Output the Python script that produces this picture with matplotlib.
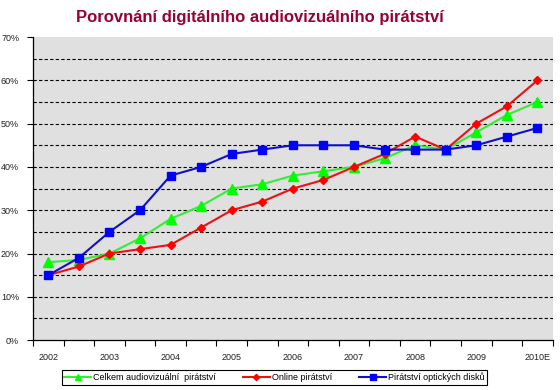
import matplotlib.pyplot as plt
import numpy as np

plt.rcParams['font.family'] = ['Liberation Sans', 'DejaVu Sans']

years = ['2002', '2003', '2004', '2005', '2006', '2007', '2008', '2009', '2010E']
celkem = [18, 18.5, 20, 23.5, 28, 31, 35, 36, 38, 39, 40, 42, 45, 44, 48, 52, 55]
online = [15, 17, 20, 21, 22, 26, 30, 32, 35, 37, 40, 43, 47, 44, 50, 54, 60]
opticke = [15, 19, 25, 30, 38, 40, 43, 44, 45, 45, 45, 44, 44, 44, 45, 47, 49]

x = np.arange(len(celkem))

fig = plt.figure(figsize=(5.6, 3.9), dpi=100)
ax = fig.add_axes([0.059, 0.128, 0.928, 0.777])
ax.set_facecolor('#e0e0e0')

ax.plot(x, celkem, color='#33ee33', lw=1.5, marker='^', ms=7,
        mfc='#00ff00', mec='#00ff00', label='Celkem audiovizuální  pirátství')
ax.plot(x, online, color='#ee1111', lw=1.5, marker='D', ms=4.5,
        mfc='#ff0000', mec='#ff0000', label='Online pirátství')
ax.plot(x, opticke, color='#1010cc', lw=1.5, marker='s', ms=6,
        mfc='#0000ff', mec='#0000ff', label='Pirátství optických disků')

ax.set_xlim(-0.5, len(x) - 0.5)
ax.set_ylim(0, 70)

for g in np.arange(5, 70, 5):
    ax.axhline(g, color='black', lw=0.8, ls=(0, (3, 2)), zorder=0.5)

ax.set_yticks(np.arange(0, 71, 10))
ax.set_yticklabels([f'{v}%' for v in range(0, 71, 10)])
ax.set_xticks(np.arange(0, len(x), 2))
ax.set_xticklabels(years)
ax.set_xticks(np.arange(-0.5, len(x), 1), minor=True)
ax.tick_params(axis='x', which='major', length=0, pad=9, labelsize=6.5, labelcolor='#222222')
ax.tick_params(axis='x', which='minor', length=4, width=0.8, direction='out')
ax.tick_params(axis='y', length=4, width=0.8, labelsize=6.5, labelcolor='#222222', pad=6)

for s in ['top', 'right']:
    ax.spines[s].set_visible(False)
for s in ['left', 'bottom']:
    ax.spines[s].set_linewidth(0.9)

fig.suptitle('Porovnání digitálního audiovizuálního pirátství', x=0.465, y=0.975,
             fontsize=12, fontweight='bold', color='#990033')

leg = fig.legend(loc='center', bbox_to_anchor=(0.49, 0.033), ncol=3, fontsize=6.5,
                 fancybox=False, edgecolor='black', framealpha=1, borderpad=0.3,
                 handlelength=3, columnspacing=3, handletextpad=0.2, markerscale=0.7)
leg.get_frame().set_linewidth(0.8)

fig.savefig('out.png', dpi=100)
